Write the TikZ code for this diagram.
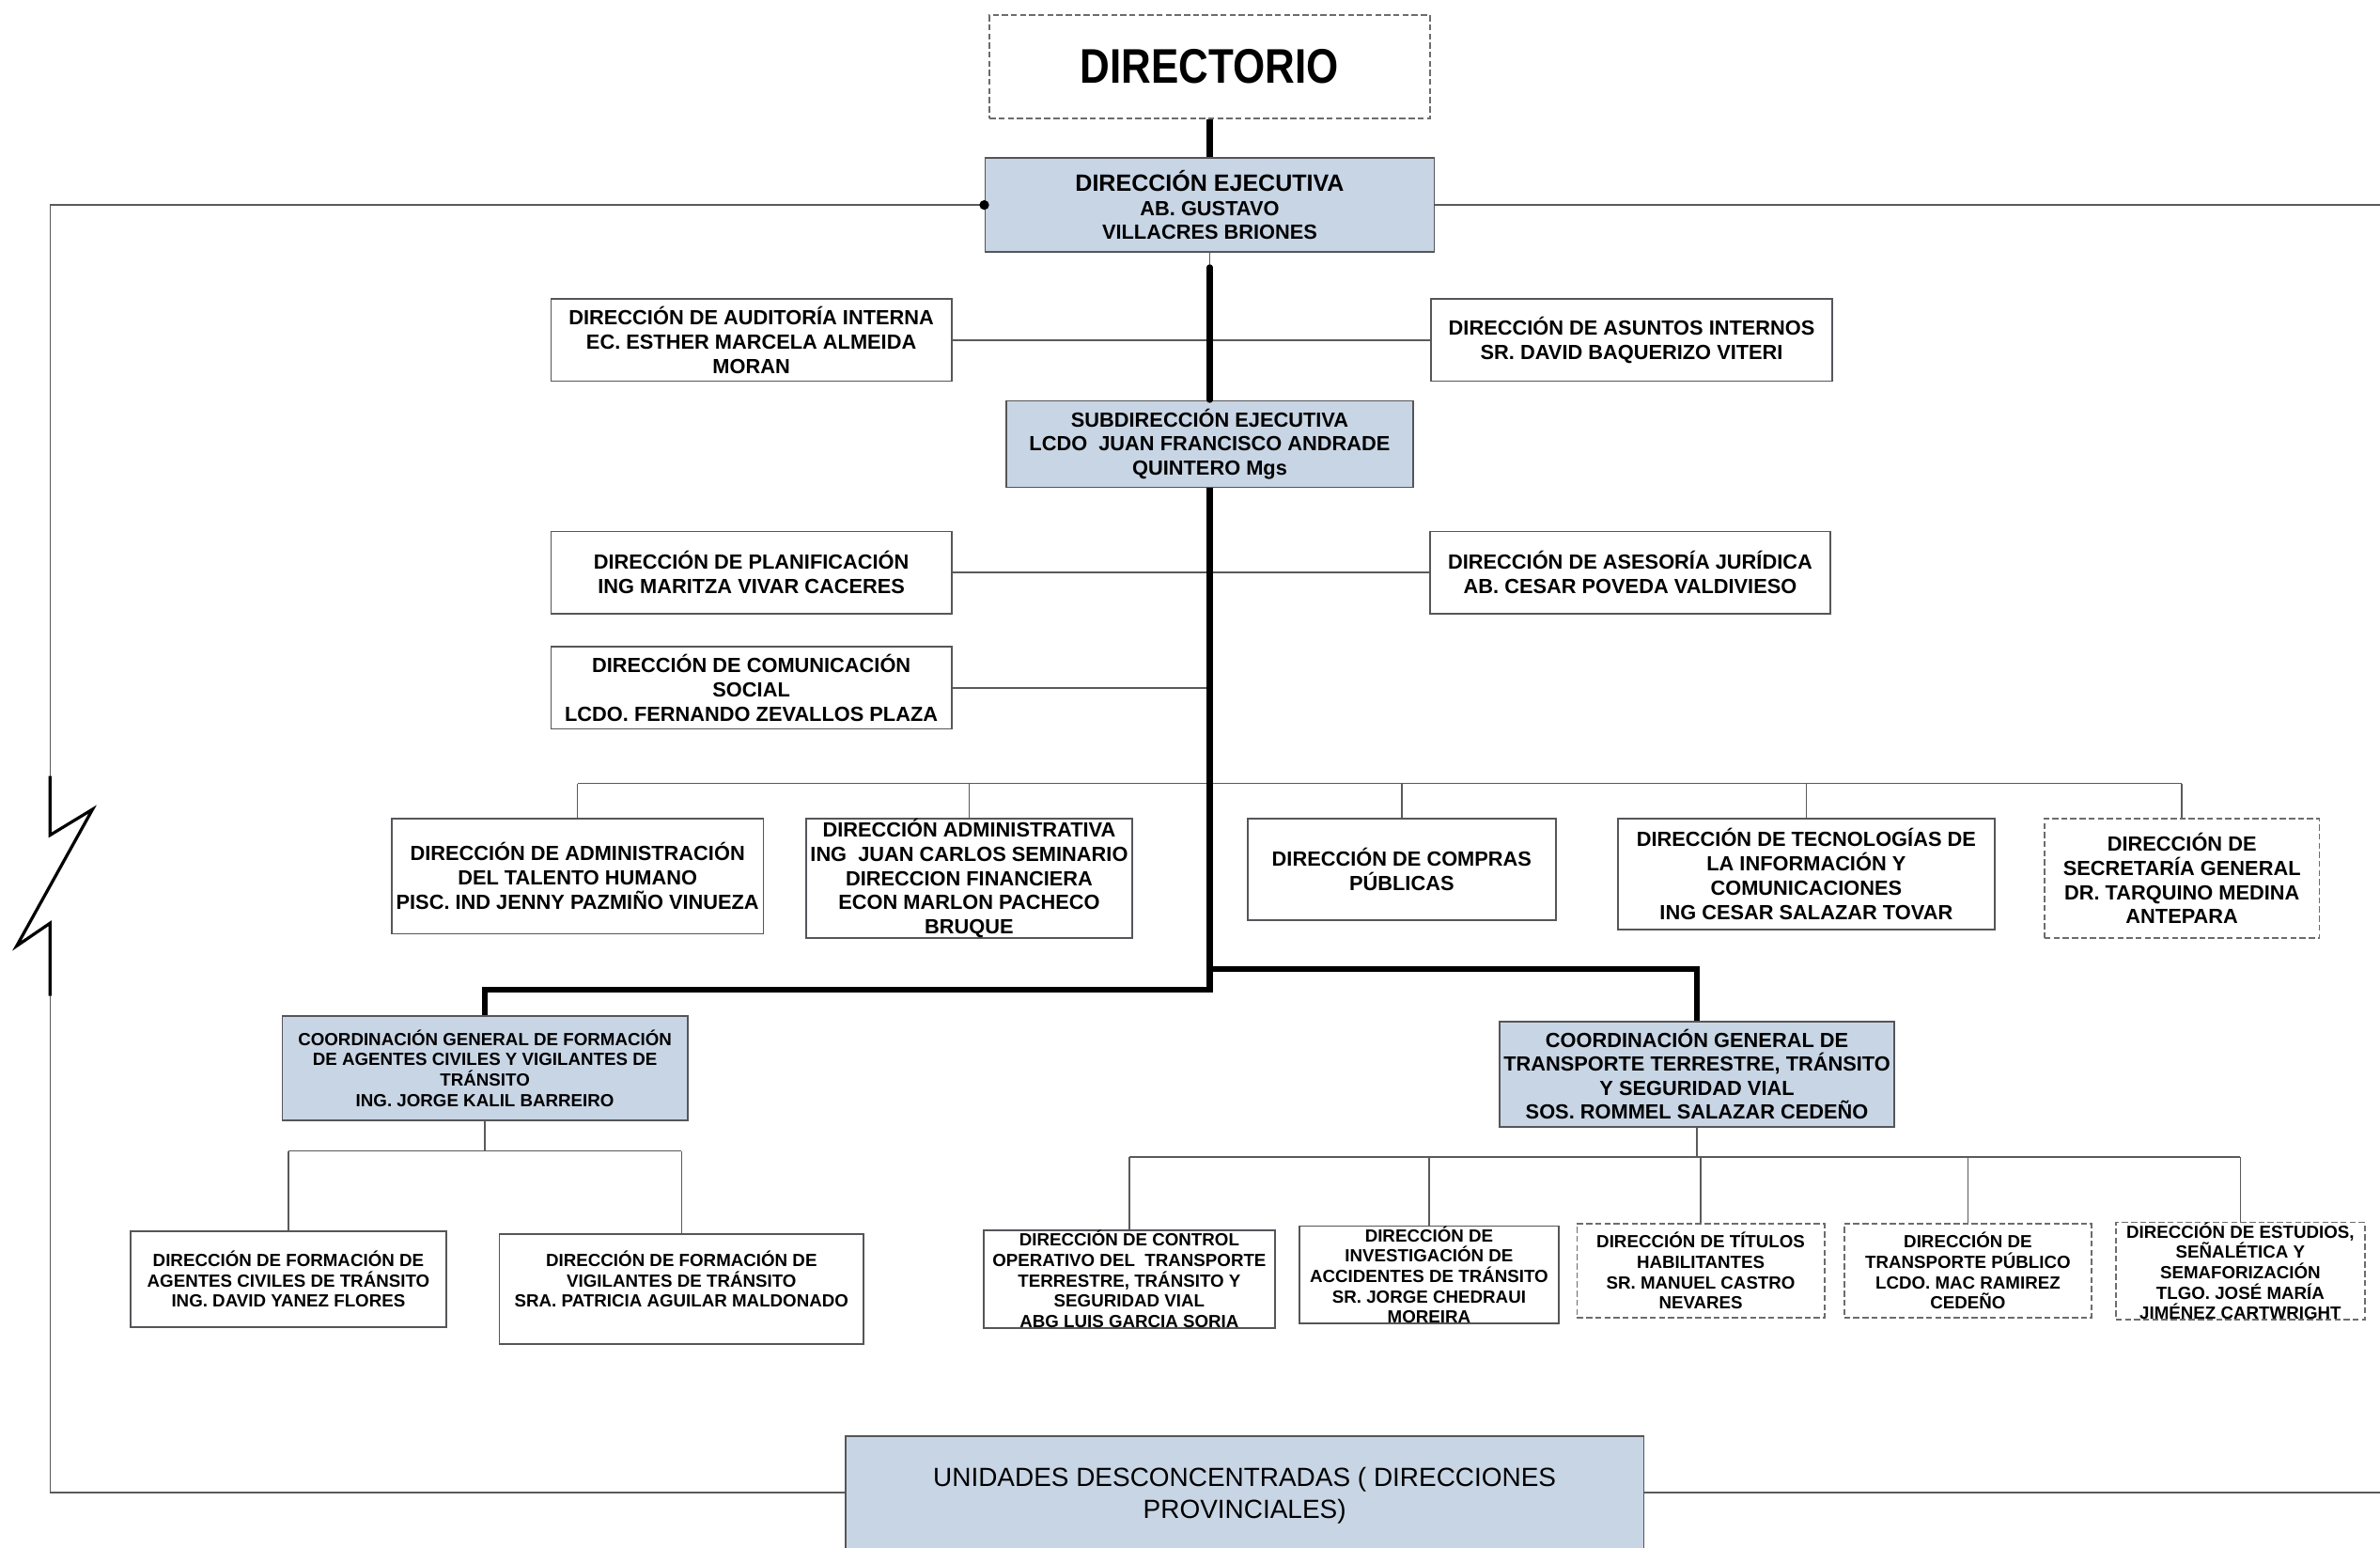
\documentclass[tikz,border=0pt]{standalone}
\usepackage{fontspec}
\setmainfont{Liberation Sans}
\newfontfamily\narrowf{Liberation Sans}[FakeStretch=0.85]
\newcommand\fN{\fontsize{6.75}{8}\selectfont\bfseries}
\newcommand\fS{\fontsize{5.8}{6.7}\selectfont\bfseries}
\definecolor{fillb}{RGB}{200,213,229}
\definecolor{bordc}{RGB}{85,85,90}
\definecolor{connc}{RGB}{90,90,90}
\begin{document}
\begin{tikzpicture}[x=0.5pt,y=-0.5pt,
  box/.style={draw=bordc, line width=0.55pt, fill=white, inner sep=0pt, align=center, font=\fN},
  bluebox/.style={box, fill=fillb},
  dbox/.style={box, dash pattern=on 2pt off 1pt, draw=gray!85!black},
  sz/.style 2 args={minimum width=#1*0.5pt, minimum height=#2*0.5pt},
  smallf/.style={font=\fS},
  conn/.style={draw=connc, line width=0.5pt},
  trunk/.style={draw=black, line width=1.9pt},
]
\useasboundingbox (0,0) rectangle (1568,1019);

% level coordinates
\coordinate (busA) at (0,516);
\coordinate (busF) at (0,758);
\coordinate (busT) at (0,762);
\coordinate (yU) at (0,983);
\coordinate (t1) at (797,176);
\coordinate (j1) at (797,652);
\coordinate (j2) at (797,638);
\coordinate (zz1) at (33,511);
\coordinate (zz2) at (33,656);

% nodes
\node[dbox, sz={290}{68}, font=\narrowf\fontsize{16}{18}\selectfont\bfseries] (dir) at (797,44) {DIRECTORIO};
\node[bluebox, sz={296}{62}] (de) at (797,135) {{\fontsize{7.75}{8.5}\selectfont DIRECCIÓN EJECUTIVA}\\AB. GUSTAVO\\VILLACRES BRIONES};
\node[bluebox, sz={268}{57}] (sub) at (797,292.5) {SUBDIRECCIÓN EJECUTIVA\\LCDO~ JUAN FRANCISCO ANDRADE\\QUINTERO Mgs};
\node[box, sz={264}{54}] (aud) at (495,224) {DIRECCIÓN DE AUDITORÍA INTERNA\\EC. ESTHER MARCELA ALMEIDA\\MORAN};
\node[box, sz={264}{54}] (asu) at (1075,224) {DIRECCIÓN DE ASUNTOS INTERNOS\\SR. DAVID BAQUERIZO VITERI};
\node[box, sz={264}{54}] (pla) at (495,377) {DIRECCIÓN DE PLANIFICACIÓN\\ING MARITZA VIVAR CACERES};
\node[box, sz={264}{54}] (ase) at (1074,377) {DIRECCIÓN DE ASESORÍA JURÍDICA\\AB. CESAR POVEDA VALDIVIESO};
\node[box, sz={264}{54}] (com) at (495,453) {DIRECCIÓN DE COMUNICACIÓN\\SOCIAL\\LCDO. FERNANDO ZEVALLOS PLAZA};

\node[box, sz={245}{76}] (tal) at (380.5,577) {DIRECCIÓN DE ADMINISTRACIÓN\\DEL TALENTO HUMANO\\PISC. IND JENNY PAZMIÑO VINUEZA};
\node[box, sz={215}{79}] (adm) at (638.5,578.5) {DIRECCIÓN ADMINISTRATIVA\\ING~ JUAN CARLOS SEMINARIO\\DIRECCION FINANCIERA\\ECON MARLON PACHECO\\BRUQUE};
\node[box, sz={203}{67}] (cpr) at (923.5,572.5) {DIRECCIÓN DE COMPRAS\\PÚBLICAS};
\node[box, sz={248}{73}] (tec) at (1190,575.5) {DIRECCIÓN DE TECNOLOGÍAS DE\\LA INFORMACIÓN Y\\COMUNICACIONES\\ING CESAR SALAZAR TOVAR};
\node[dbox, sz={181}{79}] (sec) at (1437.5,578.5) {DIRECCIÓN DE\\SECRETARÍA GENERAL\\DR. TARQUINO MEDINA\\ANTEPARA};

\node[bluebox, smallf, sz={267}{69}] (cgf) at (319.5,703.5) {COORDINACIÓN GENERAL DE FORMACIÓN\\DE AGENTES CIVILES Y VIGILANTES DE\\TRÁNSITO\\ING. JORGE KALIL BARREIRO};
\node[bluebox, sz={260}{69}, font=\fontsize{6.75}{7.75}\selectfont\bfseries] (cgt) at (1118,707.5) {COORDINACIÓN GENERAL DE\\TRANSPORTE TERRESTRE, TRÁNSITO\\Y SEGURIDAD VIAL\\SOS. ROMMEL SALAZAR CEDEÑO};

\node[box, smallf, sz={208}{63}] (fag) at (190,842.5) {DIRECCIÓN DE FORMACIÓN DE\\AGENTES CIVILES DE TRÁNSITO\\ING. DAVID YANEZ FLORES};
\node[box, smallf, sz={240}{72}] (fvi) at (449,849) {DIRECCIÓN DE FORMACIÓN DE\\VIGILANTES DE TRÁNSITO\\SRA. PATRICIA AGUILAR MALDONADO\\\mbox{}};

\node[box, smallf, sz={192}{63}] (ctl) at (744,842.5) {DIRECCIÓN DE CONTROL\\OPERATIVO DEL~ TRANSPORTE\\TERRESTRE, TRÁNSITO Y\\SEGURIDAD VIAL\\ABG LUIS GARCIA SORIA};
\node[box, smallf, sz={171}{63}] (inv) at (941.5,839.5) {DIRECCIÓN DE\\INVESTIGACIÓN DE\\ACCIDENTES DE TRÁNSITO\\SR. JORGE CHEDRAUI\\MOREIRA};
\node[dbox, smallf, sz={163}{62}] (tit) at (1120.5,837) {DIRECCIÓN DE TÍTULOS\\HABILITANTES\\SR. MANUEL CASTRO\\NEVARES};
\node[dbox, smallf, sz={163}{62}] (tpu) at (1296.5,837) {DIRECCIÓN DE\\TRANSPORTE PÚBLICO\\LCDO. MAC RAMIREZ\\CEDEÑO};
\node[dbox, smallf, sz={164}{62}] (est) at (1476,837) {DIRECCIÓN DE ESTUDIOS,\\SEÑALÉTICA Y\\SEMAFORIZACIÓN\\TLGO. JOSÉ MARÍA\\JIMÉNEZ CARTWRIGHT};

\node[bluebox, sz={526}{84}] (unid) at (820,988) {};
\node[align=center, inner sep=0pt, font=\fontsize{8.65}{10.5}\selectfont] (unidtxt) at (820,985) {UNIDADES DESCONCENTRADAS ( DIRECCIONES\\PROVINCIALES)};

% thin connectors
\draw[conn] (aud.east) -- (asu.west);
\draw[conn] (pla.east) -- (ase.west);
\draw[conn] (com.east) -- (com.east -| t1);
\draw[conn] (de.south) -- (t1);

\draw[conn] (tal.north |- busA) -- (sec.north |- busA);
\foreach \n in {tal,adm,cpr,tec,sec} \draw[conn] (\n.north) -- (\n.north |- busA);

\draw[conn] (cgf.south) -- (cgf.south |- busF);
\draw[conn] (fag.north |- busF) -- (fvi.north |- busF);
\foreach \n in {fag,fvi} \draw[conn] (\n.north) -- (\n.north |- busF);

\draw[conn] (cgt.south) -- (cgt.south |- busT);
\draw[conn] (ctl.north |- busT) -- (est.north |- busT);
\foreach \n in {ctl,inv,tit,tpu,est} \draw[conn] (\n.north) -- (\n.north |- busT);

% outer loop
\draw[conn] (de.west) -| (zz1);
\draw[conn] (zz2) |- (unid.west |- yU);
\draw[conn] (de.east) -- ++(700,0);
\draw[conn] (unid.east |- yU) -- ++(700,0);
\draw[black, line width=1pt, line join=miter] (zz1) -- (33,550) -- (61,533) -- (11,623) -- (33,608) -- (zz2);
\fill[black] (de.west) circle (1.6pt);

% thick trunk
\draw[trunk] (dir.south) -- (de.north);
\draw[trunk, line cap=round] (t1) -- (sub.north);
\draw[trunk] (sub.south) -- (j1) -| (cgf.north);
\draw[trunk] (j2) -| (cgt.north);
\end{tikzpicture}
\end{document}
